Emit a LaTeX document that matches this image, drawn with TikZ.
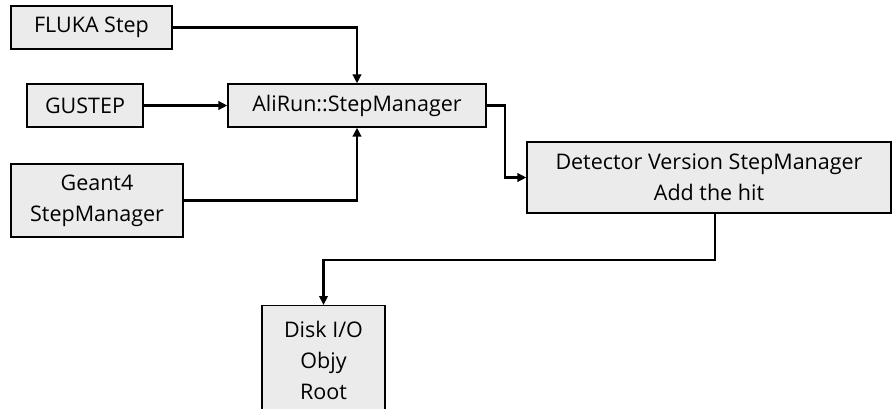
\documentclass[tikz,border=0pt]{standalone}
\usepackage{fontspec}
\setmainfont{Open Sans}
\usetikzlibrary{arrows.meta}
\definecolor{boxfill}{HTML}{EBEBEB}
\begin{document}
\begin{tikzpicture}[x=1pt,y=-1pt,
  box/.style={draw=black,line width=1.3pt,fill=boxfill,inner sep=0pt,align=center,
    font=\fontsize{21.5}{31}\selectfont},
  arr/.style={line width=2.8pt,-{Triangle[length=9pt,width=8.5pt]}},
  plain/.style={line width=2.8pt}]
\useasboundingbox (0,0) rectangle (892,409);
\node[box,minimum width=161pt,minimum height=43pt] (fluka) at (91.5,27.5) {FLUKA Step};
\node[box,minimum width=116pt,minimum height=43pt] (gustep) at (85,105.5) {GUSTEP};
\node[box,minimum width=258pt,minimum height=43pt] (alirun) at (357,105.5) {AliRun::StepManager};
\node[box,minimum width=172pt,minimum height=73pt] (geant) at (97,200.5) {Geant4\\StepManager};
\node[box,minimum width=364pt,minimum height=71pt] (det) at (709,177.5) {Detector Version StepManager\\Add the hit};
\node[box,minimum width=123pt,minimum height=110pt,anchor=north] (disk) at (323.5,305) {Disk I/O\\Objy\\Root};
\coordinate (bend) at (715,260);
\coordinate (knee) at (505,105.5);
\draw[arr] (fluka.east) -| (alirun.north);
\draw[arr] (gustep.east) -- (alirun.west);
\draw[arr] (geant.east) -| (alirun.south);
\draw[arr] (alirun.east) -- (knee) |- (det.west);
\draw[arr] (det.south -| bend) -- (bend) -| (disk.north);
\end{tikzpicture}
\end{document}
